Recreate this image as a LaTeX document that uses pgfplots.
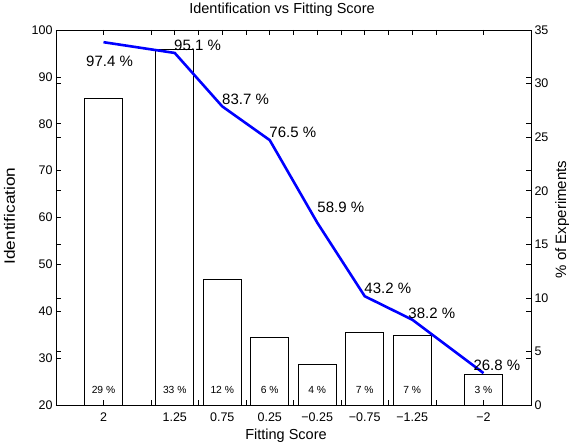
\documentclass[border=0pt]{standalone}
\usepackage{fontspec}
\setmainfont{Liberation Sans}
\newfontfamily\widesans{Liberation Sans}[FakeStretch=1.15]
\usepackage{pgfplots}
\pgfplotsset{compat=1.18}
\newcommand\tickfont{\fontsize{12.5}{14}\selectfont}
\newcommand\labfont{\fontsize{14.5}{17}\selectfont}
\newcommand\ylabfont{\widesans\fontsize{15}{18}\selectfont}
\newcommand\valfont{\fontsize{15}{18}\selectfont}
\newcommand\barfont{\fontsize{10.3}{12}\selectfont}
\begin{document}
\begin{tikzpicture}
\pgfplotsset{
  common/.style={
    scale only axis, width=475pt, height=375pt,
    xmin=-2.5, xmax=2.5, x dir=reverse,
    axis line style={line width=0.8pt},
    every tick/.style={black, line width=0.6pt},
    major tick length=5pt,
    tick align=inside,
    xtick pos=both, ytick pos=both,
    tick label style={font=\tickfont},
    label style={font=\labfont},
  }
}
\begin{axis}[common,
  ymin=0, ymax=35, ytick={0,5,10,15,20,25,30,35},
  yticklabels={0,5,10,15,20,25,30,35},
  yticklabel pos=right,
  xtick={2,1.25,0.75,0.25,-0.25,-0.75,-1.25,-2},
  xticklabels={2,1.25,0.75,0.25,−0.25,−0.75,−1.25,−2},
  xticklabel style={anchor=base, yshift=-17pt},
  ylabel={\% of Experiments},
  ylabel style={at={(axis description cs:1.0737,0.4947)}, anchor=base, font=\fontsize{15}{18}\selectfont},
  xlabel={Fitting Score},
  xlabel style={at={(axis description cs:0.4842,-0.0933)}, anchor=base},
]
\addplot[ybar, bar width=0.4, fill=white, draw=black, line width=0.8pt]
  coordinates {(2,28.6) (1.25,33.2) (0.75,11.7) (0.25,6.3) (-0.25,3.8) (-0.75,6.75) (-1.25,6.5) (-2,2.85)};
\node[font=\barfont] at (axis cs:2,1.43) {29 \%};
\node[font=\barfont] at (axis cs:1.25,1.43) {33 \%};
\node[font=\barfont] at (axis cs:0.75,1.43) {12 \%};
\node[font=\barfont] at (axis cs:0.25,1.43) {6 \%};
\node[font=\barfont] at (axis cs:-0.25,1.43) {4 \%};
\node[font=\barfont] at (axis cs:-0.75,1.43) {7 \%};
\node[font=\barfont] at (axis cs:-1.25,1.43) {7 \%};
\node[font=\barfont] at (axis cs:-2,1.43) {3 \%};
\end{axis}
\begin{axis}[common,
  ymin=20, ymax=100, ytick={20,30,40,50,60,70,80,90,100},
  yticklabels={20,30,40,50,60,70,80,90,100},
  yticklabel pos=left,
  xtick={-2,-1.5,-1,-0.5,0,0.5,1,1.5,2}, xticklabels={},
  ylabel={Identification},
  ylabel style={at={(axis description cs:-0.0863,0.504)}, anchor=base, font=\ylabfont},
  title={Identification vs Fitting Score},
  title style={at={(axis description cs:0.4758,1.0267)}, anchor=base, font=\labfont},
]
\addplot[color={rgb,1:red,0;green,0;blue,1}, line width=2.6pt]
  coordinates {(2,97.4) (1.25,95.1) (0.75,83.7) (0.25,76.5) (-0.25,58.9) (-0.75,43.2) (-1.25,38.2) (-2,26.8)};
\node[anchor=west, inner sep=0pt, font=\valfont] at (axis cs:2.184,93.4) {97.4 \%};
\node[anchor=west, inner sep=0pt, font=\valfont] at (axis cs:1.258,96.7) {95.1 \%};
\node[anchor=west, inner sep=0pt, font=\valfont] at (axis cs:0.753,85.3) {83.7 \%};
\node[anchor=west, inner sep=0pt, font=\valfont] at (axis cs:0.255,78.1) {76.5 \%};
\node[anchor=west, inner sep=0pt, font=\valfont] at (axis cs:-0.25,62.1) {58.9 \%};
\node[anchor=west, inner sep=0pt, font=\valfont] at (axis cs:-0.745,44.8) {43.2 \%};
\node[anchor=west, inner sep=0pt, font=\valfont] at (axis cs:-1.208,39.6) {38.2 \%};
\node[anchor=west, inner sep=0pt, font=\valfont] at (axis cs:-1.893,28.5) {26.8 \%};
\end{axis}
\pgfresetboundingbox
\path[use as bounding box] (-56pt,-38pt) rectangle (513pt,405pt);
\end{tikzpicture}
\end{document}
